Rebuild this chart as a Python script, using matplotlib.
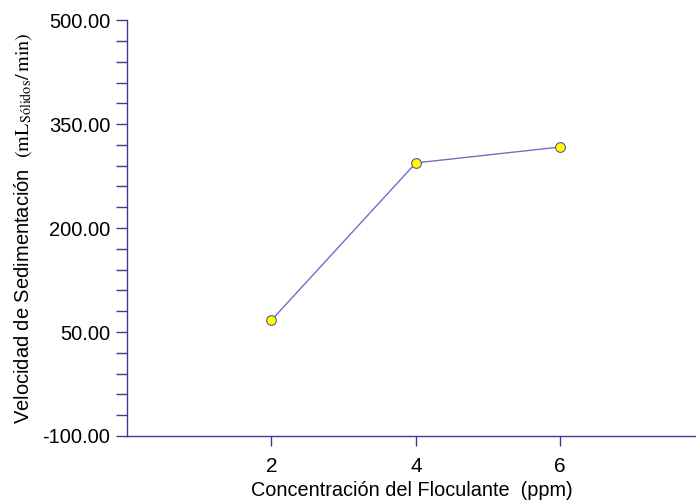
import matplotlib.pyplot as plt
from matplotlib.ticker import MultipleLocator, FormatStrFormatter

# datos
concentracion = [2, 4, 6]
velocidad = [67.0, 294.0, 317.0]
y_ticks = [-100, 50, 200, 350, 500]

axis_color = '#3c3c96'
line_color = '#7070c0'

plt.rcParams['font.family'] = ['Liberation Sans', 'DejaVu Sans']
plt.rcParams['mathtext.fontset'] = 'stix'

fig = plt.figure(figsize=(6.96, 5.04), dpi=100)
ax = fig.add_axes([0.1825, 0.135, 0.8175, 0.825])

ax.plot(concentracion, velocidad, '-', color=line_color, linewidth=1.0, zorder=2)
ax.plot(concentracion, velocidad, 'o', markersize=7, markerfacecolor='#ffff00',
        markeredgecolor='#5a5a8a', markeredgewidth=0.8, zorder=3)

ax.set_xlim(0, 7.88)
ax.set_ylim(-100, 500)
ax.set_xticks([2, 4, 6])
ax.set_yticks(y_ticks)
ax.yaxis.set_minor_locator(MultipleLocator(30, offset=-100))
ax.yaxis.set_major_formatter(FormatStrFormatter('%.2f'))

for side in ['top', 'right']:
    ax.spines[side].set_visible(False)
for side in ['left', 'bottom']:
    ax.spines[side].set_color(axis_color)
    ax.spines[side].set_linewidth(1.0)

ax.tick_params(axis='y', which='both', direction='out', length=8, width=1,
               color=axis_color, labelsize=14.5, pad=4)
ax.tick_params(axis='x', which='major', direction='out', length=7, width=1,
               color=axis_color, labelsize=15, pad=8)

ax.set_xlabel('Concentración del Floculante  (ppm)', fontsize=14.3, labelpad=4)
ax.set_ylabel(r'Velocidad de Sedimentación  $(\mathrm{mL}_{\mathrm{Sólidos}}\mathrm{/\,min})$',
              fontsize=14.5, labelpad=6)

fig.savefig('out.png', dpi=100)
